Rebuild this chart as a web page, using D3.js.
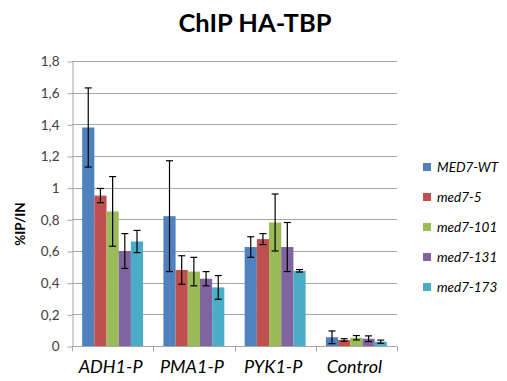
<!DOCTYPE html>
<html><head><meta charset="utf-8">
<script src="https://cdn.jsdelivr.net/npm/d3@7"></script>
<style>body{margin:0;background:#fff}</style>
</head><body>
<svg id="c" width="507" height="381"></svg>
<script>
const categories = ["ADH1-P","PMA1-P","PYK1-P","Control"];
const seriesNames = ["MED7-WT","med7-5","med7-101","med7-131","med7-173"];
const colors = ["#4F81BD","#C0504D","#9BBB59","#8064A2","#4BACC6"];
// values per series, in category order
const medWT   = [1.38, 0.82, 0.625, 0.055];
const med7_5  = [0.95, 0.48, 0.675, 0.038];
const med7_101= [0.85, 0.47, 0.78, 0.052];
const med7_131= [0.60, 0.425, 0.625, 0.046];
const med7_173= [0.66, 0.37, 0.475, 0.027];
const errWT   = [0.25, 0.35, 0.065, 0.04];
const err5    = [0.045, 0.09, 0.035, 0.008];
const err101  = [0.22, 0.09, 0.18, 0.014];
const err131  = [0.11, 0.045, 0.155, 0.018];
const err173  = [0.07, 0.075, 0.008, 0.01];
const yTicks = [0,0.2,0.4,0.6,0.8,1,1.2,1.4,1.6,1.8];
const yTickLabels = ["0","0,2","0,4","0,6","0,8","1","1,2","1,4","1,6","1,8"];

const values = [medWT, med7_5, med7_101, med7_131, med7_173];
const errs = [errWT, err5, err101, err131, err173];

const svg = d3.select("#c");
const L = 72, R = 397, T = 61, B = 346;
const font = "Lato, 'Open Sans', sans-serif";

const y = d3.scaleLinear().domain([0,1.8]).range([B,T]);
const x0 = d3.scaleBand().domain(categories).range([L,R]).paddingInner(0.25).paddingOuter(0.125);
const x1 = d3.scaleBand().domain(seriesNames).range([0,x0.bandwidth()]).padding(0);

// gridlines
svg.append("g").selectAll("line").data(yTicks.slice(1)).join("line")
  .attr("x1",L).attr("x2",R).attr("y1",d=>Math.round(y(d))+0.5).attr("y2",d=>Math.round(y(d))+0.5)
  .attr("stroke","#a6a6a6").attr("stroke-width",1);

// y axis
const yAxis = d3.axisLeft(y).tickValues(yTicks).tickFormat((d,i)=>yTickLabels[i]).tickSize(5).tickSizeOuter(0).tickPadding(8);
const ya = svg.append("g").attr("transform",`translate(${L+0.5},0.5)`).call(yAxis);
ya.select(".domain").attr("stroke","#a6a6a6");
ya.selectAll(".tick line").attr("stroke","#a6a6a6");
ya.selectAll("text").attr("font-family",font).attr("font-size",13.5).attr("fill","#404040");

// bars
const groups = svg.append("g").selectAll("g").data(seriesNames).join("g").attr("fill",(d,i)=>colors[i]);
groups.each(function(s,si){
  const g = d3.select(this);
  categories.forEach((c,ci)=>{
    const v = values[si][ci];
    g.append("rect").attr("x",x0(c)+x1(s)).attr("width",x1.bandwidth())
      .attr("y",y(v)).attr("height",y(0)-y(v));
  });
});

// error bars
const eb = svg.append("g").attr("stroke","#000").attr("stroke-width",1.2);
seriesNames.forEach((s,si)=>{
  categories.forEach((c,ci)=>{
    const v = values[si][ci], e = errs[si][ci];
    const cx = x0(c)+x1(s)+x1.bandwidth()/2;
    eb.append("line").attr("x1",cx).attr("x2",cx).attr("y1",y(v+e)).attr("y2",y(v-e));
    eb.append("line").attr("x1",cx-3.5).attr("x2",cx+3.5).attr("y1",y(v+e)).attr("y2",y(v+e));
    eb.append("line").attr("x1",cx-3.5).attr("x2",cx+3.5).attr("y1",y(v-e)).attr("y2",y(v-e));
  });
});

// x axis
const xa = svg.append("g").attr("transform",`translate(0,${B+0.5})`);
xa.append("line").attr("x1",L).attr("x2",R).attr("stroke","#a6a6a6");
const bounds = categories.map(c=>x0(c)-x0.step()*x0.paddingInner()/2).concat([R]);
xa.selectAll("line.t").data(bounds).join("line").attr("class","t")
  .attr("x1",d=>Math.round(d)+0.5).attr("x2",d=>Math.round(d)+0.5).attr("y1",0).attr("y2",5).attr("stroke","#a6a6a6");
xa.selectAll("text").data(categories).join("text")
  .attr("x",c=>x0(c)+x0.bandwidth()/2-2).attr("y",26).attr("text-anchor","middle")
  .attr("font-family",font).attr("font-style","italic").attr("font-size",18).attr("fill","#000")
  .text(d=>d);

// title
svg.append("text").attr("x",255).attr("y",32).attr("text-anchor","middle")
  .attr("font-family",font).attr("font-weight","bold").attr("font-size",25.5).text("ChIP HA-TBP");

// y label
svg.append("text").attr("transform","translate(25,224) rotate(-90)").attr("text-anchor","middle")
  .attr("font-family",font).attr("font-weight","bold").attr("font-size",13.5).text("%IP/IN");

// legend
const lg = svg.append("g").attr("transform","translate(423,0)");
seriesNames.forEach((s,i)=>{
  const yy = 167 + i*30;
  lg.append("rect").attr("x",0).attr("y",yy-4).attr("width",8).attr("height",8).attr("fill",colors[i]);
  lg.append("text").attr("x",14).attr("y",yy+5).attr("font-family",font).attr("font-style","italic")
    .attr("font-size",13.5).attr("fill","#000").text(s);
});
</script>
</body></html>
